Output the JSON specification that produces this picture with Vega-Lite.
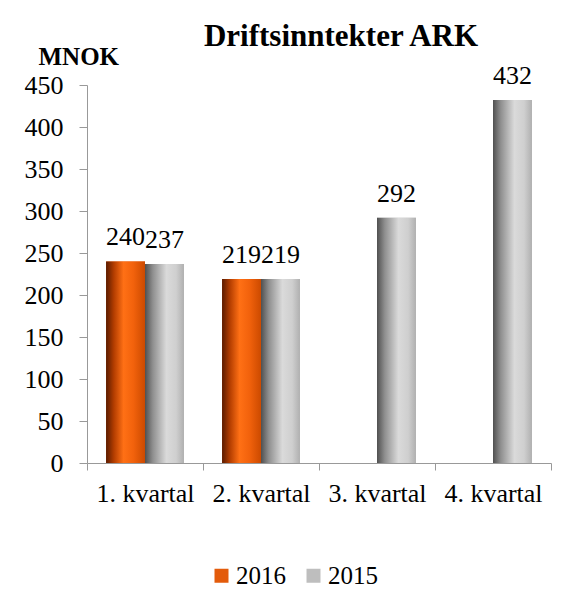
{
  "$schema": "https://vega.github.io/schema/vega-lite/v6.json",
  "width": 464,
  "height": 378,
  "autosize": {"type": "none"},
  "padding": {"left": 87, "top": 85, "right": 17, "bottom": 137},
  "background": "white",
  "config": {"view": {"stroke": null}, "font": "Liberation Serif"},
  "title": {
    "text": "Driftsinntekter ARK",
    "font": "Liberation Serif",
    "fontSize": 31,
    "fontWeight": "bold",
    "color": "black",
    "anchor": "middle",
    "frame": "group",
    "dx": 22,
    "offset": -9
  },
  "data": {
    "values": [
      {"kvartal": "1. kvartal", "year": "2016", "value": 240},
      {"kvartal": "1. kvartal", "year": "2015", "value": 237},
      {"kvartal": "2. kvartal", "year": "2016", "value": 219},
      {"kvartal": "2. kvartal", "year": "2015", "value": 219},
      {"kvartal": "3. kvartal", "year": "2015", "value": 292},
      {"kvartal": "4. kvartal", "year": "2015", "value": 432}
    ]
  },
  "encoding": {
    "x": {
      "field": "kvartal",
      "type": "nominal",
      "sort": null,
      "scale": {"paddingInner": 0, "paddingOuter": 0},
      "axis": {
        "title": null,
        "labelAngle": 0,
        "domainColor": "#999999",
        "tickColor": "#999999",
        "tickSize": 7,
        "tickBand": "extent",
        "labelFont": "Liberation Serif",
        "labelFontSize": 26,
        "labelColor": "black",
        "labelPadding": 10
      }
    },
    "xOffset": {
      "field": "year",
      "type": "nominal",
      "sort": ["2016", "2015"],
      "scale": {"domain": ["2016", "2015"], "paddingInner": 0, "paddingOuter": 0.49}
    },
    "y": {
      "field": "value",
      "type": "quantitative",
      "scale": {"domain": [0, 450], "nice": false},
      "axis": {
        "values": [0, 50, 100, 150, 200, 250, 300, 350, 400, 450],
        "grid": false,
        "title": "MNOK",
        "titleAngle": 0,
        "titleAlign": "left",
        "titleBaseline": "alphabetic",
        "titleX": -49,
        "titleY": -21,
        "titleFont": "Liberation Serif",
        "titleFontSize": 25,
        "titleFontWeight": "bold",
        "titleColor": "black",
        "labelFont": "Liberation Serif",
        "labelFontSize": 26,
        "labelColor": "black",
        "labelPadding": 16,
        "tickSize": 8,
        "domainColor": "#999999",
        "tickColor": "#999999"
      }
    }
  },
  "layer": [
    {
      "mark": {"type": "bar"},
      "encoding": {
        "color": {
          "field": "year",
          "type": "nominal",
          "scale": {"domain": ["2016", "2015"], "range": ["#E35B0B", "#BEBEBE"]},
          "legend": {
            "title": null,
            "orient": "none",
            "direction": "horizontal",
            "legendX": 122,
            "legendY": 478,
            "symbolType": "square",
            "symbolSize": 196,
            "symbolStrokeWidth": 0,
            "labelFont": "Liberation Serif",
            "labelFontSize": 25,
            "labelColor": "black",
            "labelOffset": 2,
            "columnPadding": 15,
            "padding": 0
          }
        }
      }
    },
    {
      "transform": [{"filter": "datum.year === '2016'"}],
      "mark": {
        "type": "bar",
        "color": {
          "gradient": "linear",
          "x1": 0, "x2": 1, "y1": 0, "y2": 0,
          "stops": [
            {"offset": 0, "color": "#5a1b00"},
            {"offset": 0.2, "color": "#b33d00"},
            {"offset": 0.45, "color": "#ff7015"},
            {"offset": 0.7, "color": "#f2620c"},
            {"offset": 1, "color": "#cc4a00"}
          ]
        }
      }
    },
    {
      "transform": [{"filter": "datum.year === '2015'"}],
      "mark": {
        "type": "bar",
        "color": {
          "gradient": "linear",
          "x1": 0, "x2": 1, "y1": 0, "y2": 0,
          "stops": [
            {"offset": 0, "color": "#505050"},
            {"offset": 0.2, "color": "#8f8f8f"},
            {"offset": 0.55, "color": "#dadada"},
            {"offset": 0.8, "color": "#cfcfcf"},
            {"offset": 1, "color": "#b0b0b0"}
          ]
        }
      }
    },
    {
      "mark": {
        "type": "text",
        "dy": -16,
        "baseline": "alphabetic",
        "font": "Liberation Serif",
        "fontSize": 26,
        "color": "black"
      },
      "encoding": {"text": {"field": "value", "type": "quantitative"}}
    }
  ]
}
